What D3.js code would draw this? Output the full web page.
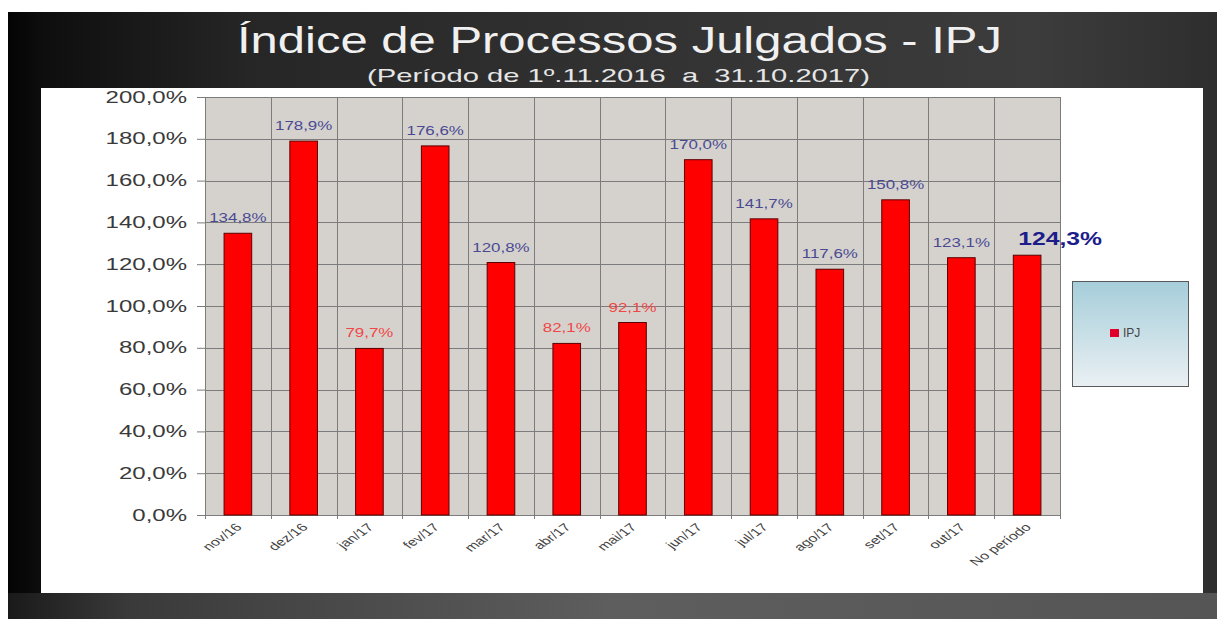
<!DOCTYPE html>
<html>
<head>
<meta charset="UTF-8">
<title>Índice de Processos Julgados - IPJ</title>
<style>
  body { margin: 0; background: #fff; }
  svg { display: block; font-family: "Liberation Sans", Arial, sans-serif; }
</style>
</head>
<body>
<div id="chart"></div>
<script src="https://cdnjs.cloudflare.com/ajax/libs/d3/7.8.5/d3.min.js"></script>
<script>
const categories = ["nov/16", "dez/16", "jan/17", "fev/17", "mar/17", "abr/17", "mai/17",
                    "jun/17", "jul/17", "ago/17", "set/17", "out/17", "No período"];
const ipj = [134.8, 178.9, 79.7, 176.6, 120.8, 82.1, 92.1, 170.0, 141.7, 117.6, 150.8, 123.1, 124.3];
const yTicks = [0, 20, 40, 60, 80, 100, 120, 140, 160, 180, 200];
const title = "Índice de Processos Julgados - IPJ";
const subtitle = "(Período de 1º.11.2016  a  31.10.2017)";
const seriesName = "IPJ";

const W = 1217, H = 619;
const plot = {left: 205, right: 1060, top: 97, bottom: 515};
const fmt = v => v.toFixed(1).replace('.', ',') + '%';

const svg = d3.select('#chart').append('svg')
  .attr('width', W).attr('height', H);

const defs = svg.append('defs');
const bg = defs.append('linearGradient').attr('id', 'bg');
[[0, '#040404'], [0.03, '#0e0e0e'], [0.2, '#262626'], [0.55, '#333333'], [0.85, '#3c3c3c'], [1, '#2e2e2e']]
  .forEach(s => bg.append('stop').attr('offset', s[0]).attr('stop-color', s[1]));
const bot = defs.append('linearGradient').attr('id', 'bot');
[[0, '#1a1a1a'], [0.1, '#3a3a3a'], [0.5, '#5e5e5e'], [1, '#555555']]
  .forEach(s => bot.append('stop').attr('offset', s[0]).attr('stop-color', s[1]));
const lg = defs.append('linearGradient').attr('id', 'leg')
  .attr('x1', 0).attr('y1', 0).attr('x2', 0).attr('y2', 1);
[[0, '#a6ceda'], [1, '#eaf0f3']]
  .forEach(s => lg.append('stop').attr('offset', s[0]).attr('stop-color', s[1]));

// dark slide background
svg.append('rect').attr('x', 8).attr('y', 12).attr('width', W - 8).attr('height', H - 12)
  .attr('fill', 'url(#bg)');
svg.append('rect').attr('x', 8).attr('y', 593).attr('width', W - 8).attr('height', H - 593)
  .attr('fill', 'url(#bot)');
// white chart panel
svg.append('rect').attr('x', 41).attr('y', 88).attr('width', 1162).attr('height', 505)
  .attr('fill', '#fff');

// titles
svg.append('text').attr('x', 237).attr('y', 53)
  .attr('textLength', 765).attr('lengthAdjust', 'spacingAndGlyphs')
  .style('font-size', '37px').attr('fill', '#f0f0f0')
  .text(title);
svg.append('text').attr('x', 367).attr('y', 82)
  .attr('textLength', 503).attr('lengthAdjust', 'spacingAndGlyphs')
  .style('font-size', '19px').style('white-space', 'pre').attr('fill', '#e6e6e6')
  .text(subtitle);

const x = d3.scaleBand().domain(categories).range([plot.left, plot.right]);
const y = d3.scaleLinear().domain([0, 200]).range([plot.bottom, plot.top]);

function stretch(sel, k) {
  sel.each(function() {
    const len = this.getComputedTextLength();
    d3.select(this).attr('textLength', len * k).attr('lengthAdjust', 'spacingAndGlyphs');
  });
}

// plot area
svg.append('rect').attr('x', plot.left).attr('y', plot.top)
  .attr('width', plot.right - plot.left).attr('height', plot.bottom - plot.top)
  .attr('fill', '#d5d2ce');

const grid = svg.append('g').attr('stroke', '#7c7c7c').attr('stroke-width', 1);
grid.selectAll('line.h').data(yTicks).join('line').attr('class', 'h')
  .attr('x1', plot.left).attr('x2', plot.right)
  .attr('y1', d => Math.round(y(d)) + 0.5).attr('y2', d => Math.round(y(d)) + 0.5);
const bounds = categories.map(c => x(c)).concat([plot.right]);
grid.selectAll('line.v').data(bounds).join('line').attr('class', 'v')
  .attr('x1', d => Math.round(d) + 0.5).attr('x2', d => Math.round(d) + 0.5)
  .attr('y1', plot.top).attr('y2', plot.bottom + 4);

// y axis
const yAxis = svg.append('g').attr('transform', `translate(${plot.left},0)`)
  .call(d3.axisLeft(y).tickValues(yTicks).tickSize(8).tickPadding(10).tickFormat(fmt));
yAxis.select('.domain').remove();
yAxis.selectAll('line').attr('stroke', '#7c7c7c');
yAxis.selectAll('text').style('font-size', '16px').attr('fill', '#3a3a3a')
  .style('font-family', '"Liberation Sans", Arial, sans-serif')
  .call(stretch, 1.5);

// x axis labels (slanted, widened like the source slide)
const xAxis = svg.append('g').attr('transform', `translate(0,${plot.bottom})`)
  .call(d3.axisBottom(x).tickSize(0).tickPadding(0));
xAxis.select('.domain').remove();
xAxis.selectAll('text')
  .attr('x', 0).attr('y', 0).attr('dy', 0)
  .attr('text-anchor', 'end')
  .attr('transform', 'translate(5,13) scale(1.45,1) rotate(-45)')
  .style('font-size', '11px').attr('fill', '#444')
  .style('font-family', '"Liberation Sans", Arial, sans-serif');

// bars
const bw = x.bandwidth() * 0.42;
svg.append('g').selectAll('rect').data(ipj).join('rect')
  .attr('x', (d, i) => x(categories[i]) + (x.bandwidth() - bw) / 2)
  .attr('y', d => y(d))
  .attr('width', bw)
  .attr('height', d => y(0) - y(d))
  .attr('fill', '#ff0000')
  .attr('stroke', '#5a0000').attr('stroke-width', 1);

// data labels
const last = ipj.length - 1;
svg.append('g').selectAll('text').data(ipj).join('text')
  .attr('x', (d, i) => x(categories[i]) + x.bandwidth() / 2 + (i === last ? 33 : 0))
  .attr('y', (d, i) => y(d) - (i === last ? 10 : 11))
  .attr('text-anchor', 'middle')
  .style('font-family', '"Liberation Sans", Arial, sans-serif')
  .style('font-size', (d, i) => i === last ? '19px' : '13px')
  .style('font-weight', (d, i) => i === last ? 'bold' : 'normal')
  .attr('fill', (d, i) => i === last ? '#1c1c8a' : (d < 100 ? '#f04646' : '#4a4a92'))
  .text(d => fmt(d))
  .call(stretch, 1.3);

// legend
const leg = svg.append('g');
leg.append('rect').attr('x', 1072.5).attr('y', 281.5).attr('width', 116).attr('height', 105)
  .attr('fill', 'url(#leg)').attr('stroke', '#5a5a5a').attr('stroke-width', 1);
leg.append('rect').attr('x', 1110).attr('y', 329).attr('width', 9).attr('height', 8)
  .attr('fill', '#e0002a');
leg.append('text').attr('x', 1123).attr('y', 337)
  .style('font-size', '12px').attr('fill', '#444')
  .text(seriesName);
</script>
</body>
</html>
